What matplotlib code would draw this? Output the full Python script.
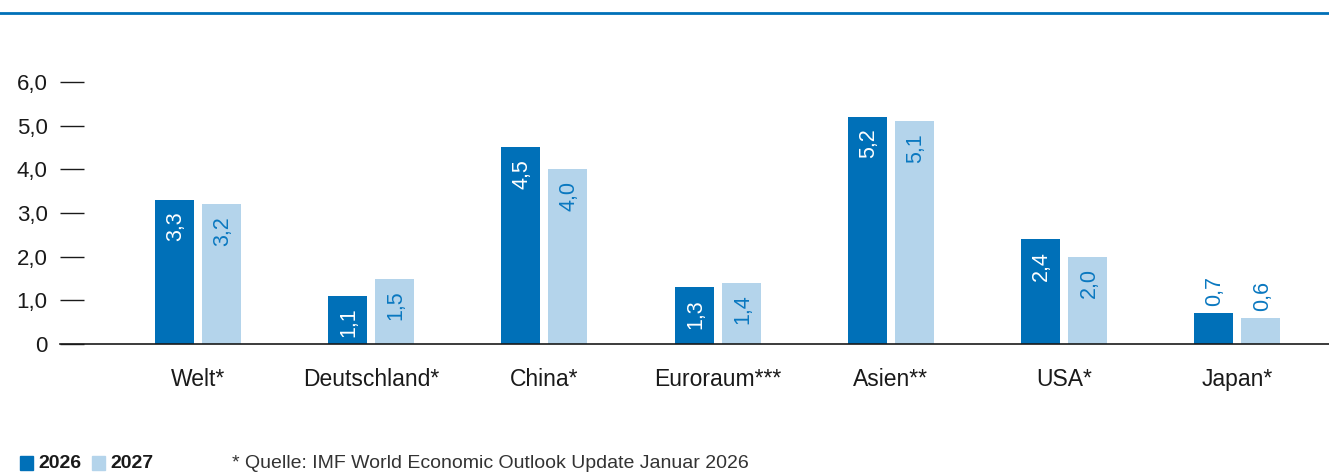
import matplotlib
matplotlib.use("Agg")
from matplotlib import pyplot as plt
from matplotlib.patches import Rectangle
from matplotlib.lines import Line2D

categories = ["Welt*", "Deutschland*", "China*", "Euroraum***", "Asien**", "USA*", "Japan*"]
values_2026 = [3.3, 1.1, 4.5, 1.3, 5.2, 2.4, 0.7]
values_2027 = [3.2, 1.5, 4.0, 1.4, 5.1, 2.0, 0.6]
yticks = [0, 1, 2, 3, 4, 5, 6]
ytick_labels = ["0", "1,0", "2,0", "3,0", "4,0", "5,0", "6,0"]
series_names = ["2026", "2027"]
footnote = "* Quelle: IMF World Economic Outlook Update Januar 2026"

DARK = "#0070b8"
LIGHT = "#b4d4eb"
TEXT_BLUE = "#0a78c0"
plt.rcParams["font.family"] = ["Liberation Sans", "DejaVu Sans"]

W, H = 1329, 473
fig = plt.figure(figsize=(W / 100, H / 100), dpi=100)

# axes placed in pixel terms of the reference
x0, x1 = 60, 1329
y_base, y_top = 344, 82
ax = fig.add_axes([x0 / W, (H - y_base) / H, (x1 - x0) / W, (y_base - y_top) / H])

step = 173.2
first = 198
ax.set_xlim((x0 - first) / step, (x1 - first) / step)
ax.set_ylim(0, 6)

bw = 0.225
off = 0.136
xs = list(range(len(categories)))
ax.bar([x - off for x in xs], values_2026, width=bw, color=DARK, zorder=2)
ax.bar([x + off for x in xs], values_2027, width=bw, color=LIGHT, zorder=2)

# value labels, rotated
for x, v26, v27 in zip(xs, values_2026, values_2027):
    for xp, v, inside_col in ((x - off, v26, "white"), (x + off, v27, TEXT_BLUE)):
        txt = f"{v:.1f}".replace(".", ",")
        if v >= 1.0:
            ax.annotate(txt, (xp, v), xytext=(1, -8.5), textcoords="offset points",
                        rotation=90, ha="center", va="top", fontsize=15.5,
                        color=inside_col, zorder=3)
        else:
            ax.annotate(txt, (xp, v), xytext=(1, 5), textcoords="offset points",
                        rotation=90, ha="center", va="bottom", fontsize=15.5,
                        color=TEXT_BLUE, zorder=3)

for s in ["top", "right", "left"]:
    ax.spines[s].set_visible(False)
ax.spines["bottom"].set_color("#1a1a1a")
ax.spines["bottom"].set_linewidth(1.2)

ax.set_yticks(yticks)
ax.set_yticklabels(ytick_labels)
ax.tick_params(axis="y", direction="in", length=17, width=1.0, color="#1a1a1a",
               pad=9, labelsize=16, labelcolor="#1a1a1a")
ax.set_xticks(xs)
ax.set_xticklabels(categories)
ax.tick_params(axis="x", length=0, pad=17, labelsize=16.5, labelcolor="#1a1a1a")

# top rule
fig.add_artist(Line2D([0, 1], [1 - 13 / H, 1 - 13 / H], color=DARK, lw=2,
                      transform=fig.transFigure))

# legend
for (lx, col, name) in ((20, DARK, series_names[0]), (92, LIGHT, series_names[1])):
    fig.add_artist(Rectangle((lx / W, (H - 470) / H), 13 / W, 14 / H, color=col,
                             transform=fig.transFigure))
    fig.text((lx + 18) / W, (H - 463.5) / H, name, fontsize=14, fontweight="bold",
             va="center", ha="left", color="#1a1a1a",
             family=["Liberation Sans Narrow", "Liberation Sans", "DejaVu Sans"])

fig.text(232 / W, (H - 463) / H, footnote, fontsize=14, va="center", ha="left",
         color="#333333",
         family=["Liberation Sans Narrow", "Liberation Sans", "DejaVu Sans"])

fig.savefig("out.png", dpi=100)
